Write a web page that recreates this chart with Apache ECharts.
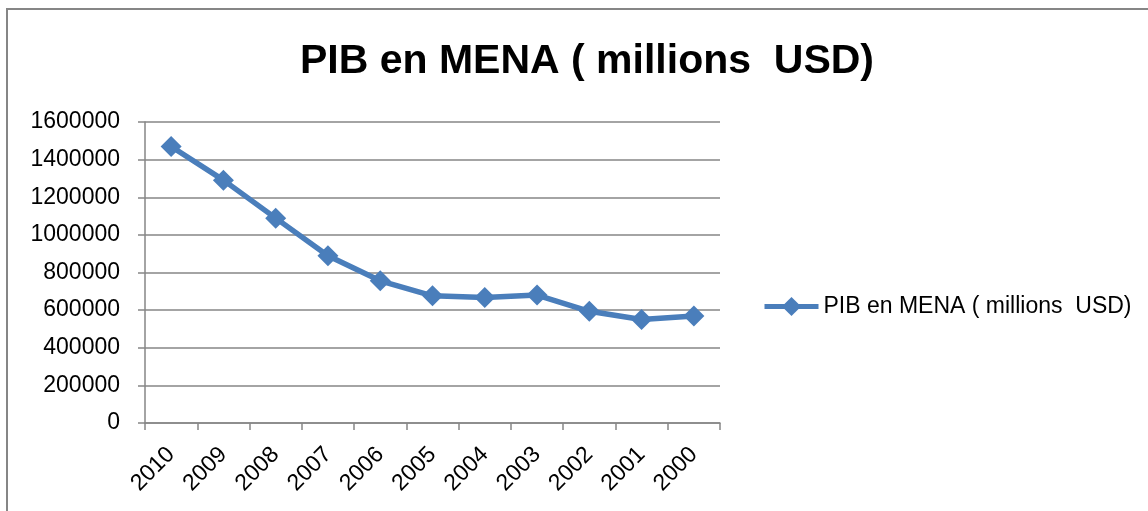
<!DOCTYPE html>
<html lang="fr">
<head>
    <meta charset="utf-8">
    <script src="https://cdn.jsdelivr.net/npm/echarts@6/dist/echarts.min.js"></script>
    <style>
        html,body{margin:0;padding:0;background:#fff;}
        #chart{width:1148px;height:511px;}
    </style>
</head>
<body>
<div id="chart"></div>
<script>
    // valeurs
    var years = ['2010','2009','2008','2007','2006','2005','2004','2003','2002','2001','2000'];
    var pib = [1470000, 1291000, 1089000, 889000, 756000, 676000, 667000, 680000, 594000, 550000, 569000];
    var seriesName = 'PIB en MENA ( millions  USD)';
    var yTicks = {min: 0, max: 1600000, interval: 200000};

    var blue = '#4a7ebb';
    var grey = '#868686';
    var font = '"Liberation Sans", Arial, sans-serif';

    var myChart = echarts.init(document.getElementById('chart'));
    myChart.setOption({
        animation: false,
        backgroundColor: '#fff',
        graphic: [{
            type: 'rect',
            shape: {x: 7, y: 9, width: 1400, height: 800},
            style: {fill: 'none', stroke: grey, lineWidth: 2}
        }],
        title: {
            text: seriesName,
            left: 582,
            top: 36,
            textAlign: 'center',
            textStyle: {fontFamily: font, fontWeight: 'bold', fontSize: 41, color: '#000'}
        },
        legend: {
            left: 757,
            top: 290,
            padding: 5,
            itemWidth: 54,
            itemHeight: 24,
            itemGap: 5,
            lineStyle: {width: 5},
            textStyle: {fontFamily: font, fontSize: 23, color: '#000'},
            data: [seriesName]
        },
        grid: {left: 145, right: 428, top: 122, bottom: 88},
        xAxis: {
            type: 'category',
            data: years,
            boundaryGap: true,
            axisLine: {lineStyle: {color: grey, width: 1.5}},
            axisTick: {show: true, length: 7, lineStyle: {color: grey, width: 1.5}},
            axisLabel: {rotate: 45, margin: 28, fontFamily: font, fontSize: 23, color: '#000'},
            splitLine: {show: false}
        },
        yAxis: {
            type: 'value',
            min: yTicks.min,
            max: yTicks.max,
            interval: yTicks.interval,
            axisLine: {show: true, lineStyle: {color: grey, width: 1.5}},
            axisTick: {show: true, length: 7, lineStyle: {color: grey, width: 1.5}},
            axisLabel: {
                margin: 25, fontFamily: font, fontSize: 23, color: '#000',
                formatter: function (v) { return String(v); }
            },
            splitLine: {show: true, lineStyle: {color: grey, width: 1.5}}
        },
        series: [{
            name: seriesName,
            type: 'line',
            data: pib,
            symbol: 'diamond',
            symbolSize: 21,
            lineStyle: {color: blue, width: 5.5},
            itemStyle: {color: blue}
        }]
    });
</script>
</body>
</html>
